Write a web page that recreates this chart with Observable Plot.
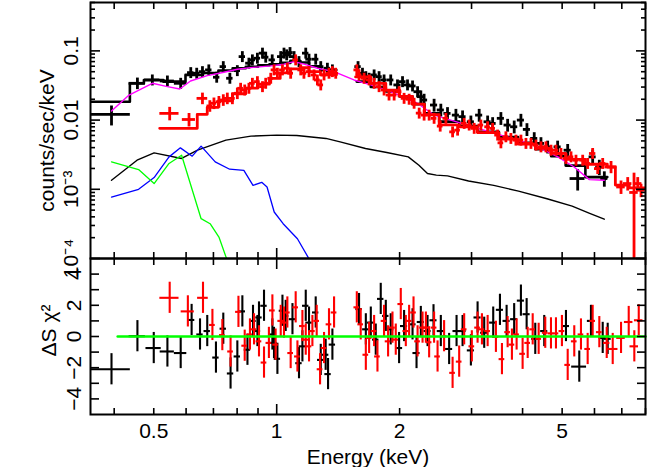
<!DOCTYPE html>
<html><head><meta charset="utf-8">
<script src="https://cdn.jsdelivr.net/npm/d3@7"></script>
<script src="https://cdn.jsdelivr.net/npm/@observablehq/plot@0.6"></script>
<style>
html,body{margin:0;padding:0;background:#fff;}
#chart{position:relative;width:648px;height:467px;overflow:hidden;background:#fff;}
#chart svg{position:absolute;left:0;}
</style></head><body><div id="chart"></div>
<script>
// ---------- data: group 1 (black) spectrum ----------
const blackE = [0.394,0.456,0.496,0.540,0.582,0.616,0.637,0.658,0.682,0.713,
  0.740,0.768,0.801,0.824,0.855,0.872,0.897,0.923,0.940,0.975,
  1.023,1.042,1.058,1.078,1.103,1.134,1.178,1.200,1.246,1.282,
  1.331,1.369,1.582,1.622,1.653,1.684,1.732,1.781,1.832,1.902,
  1.976,2.033,2.091,2.151,2.213,2.254,2.296,2.429,2.523,2.620,
  2.747,2.852,2.989,3.132,3.285,3.379,3.540,3.677,3.816,3.963,
  4.100,4.272,4.437,4.608,4.875,5.159,5.458,5.939,6.166,6.343];
const blackY = [0.0121,0.0340,0.0380,0.0367,0.0340,0.0485,0.0475,0.0501,0.0531,0.0416,
  0.0592,0.0402,0.0518,0.0826,0.0664,0.0741,0.0783,0.0927,0.0811,0.0741,
  0.0826,0.0927,0.0875,0.0945,0.0826,0.0700,0.0927,0.0758,0.0758,0.0592,
  0.0561,0.0531,0.0592,0.0475,0.0424,0.0402,0.0449,0.0424,0.0380,0.0380,
  0.0322,0.0359,0.0322,0.0311,0.0257,0.0218,0.0195,0.0165,0.0140,0.0125,
  0.0118,0.0112,0.00945,0.0118,0.00945,0.00895,0.0106,0.00847,0.0080,0.0100,
  0.00733,0.00543,0.0046,0.0041,0.0041,0.00367,0.00143,0.00294,0.0021,0.00143];
const blackErr = [0.32,0.19,0.18,0.18,0.18,0.18,0.18,0.18,0.18,0.18,
  0.18,0.18,0.18,0.18,0.18,0.18,0.18,0.18,0.18,0.18,
  0.18,0.18,0.18,0.18,0.18,0.18,0.18,0.18,0.18,0.18,
  0.18,0.18,0.18,0.18,0.18,0.18,0.18,0.18,0.18,0.18,
  0.18,0.18,0.18,0.18,0.18,0.21,0.21,0.21,0.21,0.21,
  0.21,0.21,0.21,0.21,0.21,0.21,0.21,0.21,0.21,0.21,
  0.21,0.21,0.21,0.21,0.21,0.21,0.34,0.25,0.25,0.25];
const blackHW = [0.112,0.046,0.043,0.040,0.035,0.018,0.018,0.018,0.018,0.018,
  0.018,0.018,0.018,0.018,0.018,0.018,0.018,0.018,0.018,0.018,
  0.018,0.018,0.018,0.018,0.018,0.018,0.018,0.018,0.018,0.018,
  0.018,0.018,0.018,0.018,0.018,0.018,0.018,0.018,0.018,0.018,
  0.020,0.020,0.020,0.020,0.020,0.020,0.020,0.020,0.020,0.020,
  0.020,0.020,0.020,0.020,0.020,0.020,0.020,0.020,0.020,0.020,
  0.020,0.020,0.020,0.020,0.020,0.020,0.042,0.020,0.020,0.020];

// ---------- data: group 2 (red) spectrum ----------
const redE = [0.547,0.610,0.658,0.686,0.702,0.722,0.740,0.757,0.779,0.801,
  0.816,0.835,0.855,0.872,0.897,0.923,0.940,0.967,0.985,1.004,
  1.033,1.062,1.082,1.113,1.145,1.166,1.200,1.234,1.258,1.282,
  1.306,1.343,1.369,1.395,1.571,1.591,1.637,1.684,1.732,1.781,
  1.832,1.884,1.939,1.994,2.051,2.110,2.170,2.233,2.296,2.362,
  2.429,2.514,2.596,2.696,2.773,2.878,2.960,3.045,3.162,3.285,
  3.379,3.475,3.540,3.641,3.745,3.853,3.963,4.077,4.194,4.314,
  4.437,4.563,4.695,4.829,4.967,5.109,5.256,5.406,5.614,5.774,
  5.939,6.110,6.285,6.587,6.969,7.237,7.499,7.657,7.801];
const redY = [0.0125,0.0102,0.0206,0.0160,0.0175,0.0184,0.0195,0.0206,0.0206,0.0244,
  0.0288,0.0272,0.0288,0.0340,0.0359,0.0304,0.0340,0.0402,0.0531,0.0475,
  0.0531,0.0561,0.0475,0.0741,0.0531,0.0475,0.0501,0.0449,0.0380,0.0322,
  0.0449,0.0475,0.0501,0.0475,0.0531,0.0449,0.0402,0.0380,0.0340,0.0304,
  0.0272,0.0230,0.0230,0.0257,0.0206,0.0200,0.0175,0.0126,0.0118,0.0118,
  0.0106,0.00818,0.0106,0.00676,0.00716,0.00895,0.00847,0.00759,0.00847,0.0080,
  0.00759,0.00607,0.00469,0.00573,0.00543,0.00513,0.00513,0.0046,0.0046,0.00435,
  0.0041,0.0041,0.00367,0.00367,0.00329,0.00279,0.00294,0.00263,0.00263,0.00236,
  0.00329,0.00199,0.00236,0.0021,0.00108,0.00121,0.0009,0.00121,0.00097];
const redErr = [0.22,0.22,0.19,0.19,0.19,0.19,0.19,0.19,0.19,0.19,
  0.18,0.18,0.18,0.18,0.18,0.18,0.18,0.18,0.18,0.18,
  0.18,0.18,0.18,0.18,0.18,0.18,0.18,0.18,0.18,0.18,
  0.18,0.18,0.18,0.18,0.18,0.18,0.18,0.18,0.18,0.18,
  0.18,0.18,0.18,0.18,0.18,0.18,0.18,0.18,0.18,0.18,
  0.18,0.18,0.18,0.18,0.18,0.18,0.18,0.18,0.18,0.18,
  0.18,0.18,0.18,0.18,0.18,0.18,0.18,0.18,0.18,0.18,
  0.18,0.18,0.18,0.18,0.18,0.18,0.18,0.18,0.18,0.18,
  0.18,0.18,0.18,0.20,0.22,0.22,0.90,0.22,0.22];
const redHW = [0.054,0.037,0.030,0.016,0.016,0.016,0.016,0.016,0.016,0.016,
  0.016,0.016,0.016,0.016,0.016,0.016,0.016,0.016,0.016,0.016,
  0.016,0.016,0.016,0.016,0.016,0.016,0.016,0.016,0.016,0.016,
  0.016,0.016,0.016,0.016,0.016,0.016,0.016,0.016,0.016,0.016,
  0.016,0.016,0.016,0.016,0.016,0.016,0.016,0.016,0.016,0.016,
  0.016,0.016,0.016,0.016,0.016,0.016,0.016,0.016,0.016,0.016,
  0.016,0.016,0.016,0.016,0.016,0.016,0.016,0.016,0.016,0.016,
  0.016,0.016,0.016,0.016,0.016,0.016,0.016,0.016,0.016,0.016,
  0.018,0.018,0.018,0.034,0.024,0.024,0.024,0.024,0.024];

// ---------- folded models (step histograms) ----------
const blackModelEdgesA = [0.350,0.437,0.473,0.528,0.598,0.66,0.72,0.78,0.84,0.90,0.96,1.02,1.08,1.14,1.20,1.28,1.40];
const blackModelValsA  = [0.0184,0.0340,0.0380,0.0359,0.045,0.048,0.052,0.056,0.059,0.062,0.064,0.067,0.072,0.068,0.060,0.053];
const blackModelEdgesB = [1.57,1.70,1.85,2.00,2.15,2.30,2.50,2.80,3.10,3.50,3.90,4.30,4.70,5.10,5.70,6.45];
const blackModelValsB  = [0.036,0.030,0.026,0.022,0.017,0.0125,0.0095,0.0082,0.0068,0.0057,0.0047,0.0038,0.0030,0.0022,0.0015];
const redModelEdgesA = [0.517,0.639,0.676,0.72,0.78,0.84,0.90,0.96,1.02,1.08,1.14,1.20,1.28,1.40];
const redModelValsA  = [0.00759,0.0121,0.0153,0.019,0.024,0.029,0.033,0.040,0.048,0.055,0.057,0.050,0.045];
const redModelEdgesB = [1.56,1.70,1.85,2.00,2.15,2.30,2.50,2.80,3.10,3.50,3.90,4.30,4.70,5.10,5.70,6.45,6.75,7.30,8.0];
const redModelValsB  = [0.042,0.034,0.027,0.022,0.017,0.012,0.0085,0.0080,0.0066,0.0053,0.0045,0.0039,0.0033,0.0027,0.0023,0.0021,0.00115,0.00105];

// ---------- total model and components ----------
const totalE = [0.394,0.435,0.496,0.540,0.579,0.615,0.676,0.743,0.801,0.864,0.967,1.042,1.102,1.167,1.259,1.381,1.546,1.700,1.902,2.21,2.43,2.93,3.54,4.27,4.88,5.35,5.83,6.34];
const totalV = [0.0135,0.0230,0.0340,0.0304,0.0281,0.0367,0.0438,0.0491,0.0543,0.0573,0.0607,0.0642,0.0700,0.0642,0.0561,0.0501,0.0380,0.0322,0.0257,0.0175,0.0118,0.00847,0.00607,0.00435,0.00294,0.00210,0.00138,0.00135];
const powE = [0.394,0.455,0.501,0.585,0.640,0.751,0.865,1.0,1.12,1.32,1.43,1.65,1.86,2.10,2.23,2.34,2.46,2.62,2.95,3.40,3.91,4.59,5.29,5.84,6.34];
const powV = [1.35e-3,2.63e-3,3.36e-3,2.79e-3,3.67e-3,5.13e-3,5.86e-3,6.07e-3,6.0e-3,5.43e-3,4.85e-3,3.89e-3,3.40e-3,2.94e-3,2.23e-3,1.69e-3,1.60e-3,1.56e-3,1.32e-3,1.14e-3,9.4e-4,7.3e-4,5.7e-4,4.5e-4,3.7e-4];
const blueE = [0.394,0.459,0.501,0.545,0.581,0.621,0.653,0.707,0.767,0.831,0.875,0.919,0.947,0.986,1.037,1.124,1.194,1.225];
const blueV = [7.7e-4,1.0e-3,1.48e-3,2.94e-3,3.97e-3,3.01e-3,4.2e-3,2.49e-3,1.95e-3,1.88e-3,1.14e-3,1.26e-3,1.08e-3,4.7e-4,3.18e-4,1.93e-4,1.04e-4,8.5e-5];
const greenE = [0.394,0.459,0.501,0.545,0.585,0.653,0.687,0.722,0.756];
const greenV = [2.49e-3,1.93e-3,1.21e-3,2.36e-3,3.11e-3,3.76e-4,3.18e-4,2.04e-4,9.5e-5];

// ---------- residuals ----------
const resBlackE = [0.394,0.456,0.500,0.540,0.582,0.619,0.649,0.676,0.710,0.740,
  0.771,0.801,0.824,0.848,0.875,0.897,0.905,0.931,0.976,0.985,
  1.004,1.033,1.052,1.093,1.134,1.156,1.178,1.200,1.246,1.282,
  1.318,1.336,1.369,1.591,1.653,1.700,1.748,1.798,1.850,1.902,
  1.994,2.051,2.151,2.200,2.254,2.341,2.421,2.523,2.644,2.757,
  2.852,2.989,3.104,3.222,3.390,3.521,3.656,3.815,3.963,4.093,
  4.297,4.520,5.109,5.507,5.882,6.285,6.464];
const resBlackR = [-2.10,0.02,-0.74,-0.96,-1.06,1.06,0.13,0.35,-1.35,0.50,
  -2.37,-1.28,1.61,-0.85,1.00,0.35,1.22,1.97,0.13,-0.41,
  -1.43,1.65,1.32,1.11,-1.71,-0.63,1.97,0.89,1.54,-1.50,
  -1.17,-2.41,-0.52,1.76,0.46,0.89,-0.20,2.41,1.32,0.46,
  -0.74,0.67,0.78,-1.06,0.93,0.35,1.04,0.35,-0.80,0.35,
  0.35,-0.89,1.22,0.24,0.89,1.71,1.00,1.11,2.30,1.43,
  -0.15,0.35,0.67,-1.93,1.00,-0.09,-0.15];
const resBlackHW = [0.112,0.046,0.043,0.040,0.035,0.018,0.018,0.018,0.018,0.018,
  0.018,0.018,0.018,0.018,0.018,0.018,0.018,0.018,0.018,0.018,
  0.018,0.018,0.018,0.018,0.018,0.018,0.018,0.018,0.018,0.018,
  0.018,0.018,0.018,0.018,0.018,0.018,0.018,0.018,0.018,0.018,
  0.020,0.020,0.020,0.020,0.020,0.020,0.020,0.020,0.020,0.020,
  0.020,0.020,0.020,0.020,0.020,0.020,0.020,0.020,0.020,0.020,
  0.020,0.020,0.020,0.042,0.020,0.020,0.020];
const resRedE = [0.547,0.606,0.660,0.696,0.736,0.771,0.806,0.835,0.860,0.880,
  0.905,0.931,0.957,0.976,0.994,1.023,1.042,1.062,1.082,1.113,
  1.124,1.156,1.178,1.200,1.223,1.253,1.277,1.306,1.343,1.382,
  1.571,1.606,1.653,1.684,1.732,1.765,1.832,1.874,1.921,1.957,
  2.013,2.071,2.110,2.163,2.213,2.276,2.319,2.362,2.429,2.477,
  2.570,2.696,2.798,2.878,3.005,3.104,3.181,3.285,3.442,3.561,
  3.677,3.767,3.868,4.001,4.117,4.235,4.380,4.546,4.695,4.829,
  4.994,5.159,5.354,5.560,5.774,5.939,6.166,6.429,6.650,6.969,
  7.278,7.511,7.701];
const resRedR = [2.48,1.61,2.48,0.74,0.09,-0.96,1.58,-0.59,0.13,0.46,
  -0.31,-1.67,-0.41,1.67,-0.52,1.00,0.89,1.54,-1.06,1.87,
  -1.28,0.67,-0.20,-0.63,0.35,1.00,-2.10,-0.74,0.78,1.54,
  1.87,0.78,-1.17,-0.09,0.35,-1.28,1.00,-0.31,0.57,-0.20,
  2.08,0.35,1.00,1.54,-0.31,0.57,0.57,-0.37,0.57,-1.28,
  0.02,-2.33,-1.61,0.46,-0.63,0.57,0.46,0.35,-0.02,-1.45,
  0.28,-0.52,0.13,-1.11,-0.41,0.46,-0.15,0.24,0.20,0.20,
  0.35,-1.82,-0.31,0.13,-0.80,1.00,0.28,-0.41,-0.80,-0.09,
  0.93,-0.63,1.04];
const resRedHW = [0.054,0.037,0.030,0.016,0.016,0.016,0.016,0.016,0.016,0.016,
  0.016,0.016,0.016,0.016,0.016,0.016,0.016,0.016,0.016,0.016,
  0.016,0.016,0.016,0.016,0.016,0.016,0.016,0.016,0.016,0.016,
  0.016,0.016,0.016,0.016,0.016,0.016,0.016,0.016,0.016,0.016,
  0.016,0.016,0.016,0.016,0.016,0.016,0.016,0.016,0.016,0.016,
  0.016,0.016,0.016,0.016,0.016,0.016,0.016,0.016,0.016,0.016,
  0.016,0.016,0.016,0.016,0.016,0.016,0.016,0.016,0.016,0.016,
  0.016,0.016,0.016,0.016,0.016,0.016,0.016,0.018,0.030,0.024,
  0.024,0.024,0.024];
const resSigma = 1;
const zeroLineE = [0.408, 8.0];

// ---------- axes ----------
const energyDomain = [0.35, 8];
const countsDomain = [1e-4, 0.5];
const resDomain = [-5, 5];
const xTickMinor = [0.4,0.5,0.6,0.7,0.8,0.9,2,3,4,5,6,7,8];
const xTickMajor = [1];
const xLabelTicks = [0.5, 1, 2, 5];
const xLabelText = ["0.5", "1", "2", "5"];
const yTopTicks = [1e-4, 1e-3, 0.01, 0.1];
const yTopText = ["10\u207B\u2074", "10\u207B\u00B3", "0.01", "0.1"];
const yTopMinor = [-4,-3,-2,-1].flatMap(k => [2,3,4,5,6,7,8,9].map(m => +(m * Math.pow(10, k)).toPrecision(3))).filter(v => v <= 0.5);
const yResTicks = [-4,-3,-2,-1,0,1,2,3,4];
const yResLabelTicks = [-4,-2,0,2,4];
const yResText = ["\u22124","\u22122","0","2","4"];

// ---------- build tables ----------
function points(E, Y, err, hw) {
  return E.map((e, i) => ({E: e, y: Y[i], lo: Math.max(Y[i] * (1 - err[i]), 1e-6), hi: Y[i] * (1 + err[i]), elo: e * (1 - hw[i]), ehi: e * (1 + hw[i])}));
}
function resPoints(E, R, hw) {
  return E.map((e, i) => ({E: e, r: R[i], lo: R[i] - resSigma, hi: R[i] + resSigma, elo: e * (1 - hw[i]), ehi: e * (1 + hw[i])}));
}
function steps(edges, vals, seg) {
  const out = [];
  vals.forEach((v, i) => { out.push({E: edges[i], v, seg}); out.push({E: edges[i + 1], v, seg}); });
  return out;
}
function curve(E, V) { return E.map((e, i) => ({E: e, v: V[i]})); }

const black = points(blackE, blackY, blackErr, blackHW);
const red = points(redE, redY, redErr, redHW);
const blackModel = steps(blackModelEdgesA, blackModelValsA, "a").concat(steps(blackModelEdgesB, blackModelValsB, "b"));
const redModel = steps(redModelEdgesA, redModelValsA, "a").concat(steps(redModelEdgesB, redModelValsB, "b"));
const resBlack = resPoints(resBlackE, resBlackR, resBlackHW);
const resRed = resPoints(resRedE, resRedR, resRedHW);

const font = "'Liberation Sans', Arial, Helvetica, sans-serif";
const RED = "#ff0000", GREEN = "#00ff00", BLUE = "#0000ff", MAGENTA = "#ff00ff";
const topLabel = new Map(yTopTicks.map((t, i) => [t, yTopText[i]]));
const xLab = new Map(xLabelTicks.map((t, i) => [t, xLabelText[i]]));
const resLab = new Map(yResLabelTicks.map((t, i) => [t, yResText[i]]));

function crosses(data, yKey, color, w) {
  return [
    Plot.ruleX(data, {x: "E", y1: "lo", y2: "hi", stroke: color, strokeWidth: w, clip: true}),
    Plot.ruleY(data, {y: yKey, x1: "elo", x2: "ehi", stroke: color, strokeWidth: w, clip: true})
  ];
}
function xTickAxes() {
  return [
    Plot.axisX({anchor: "bottom", ticks: xTickMinor, tickSize: -6, tickFormat: () => "", label: null, strokeWidth: 1.6}),
    Plot.axisX({anchor: "bottom", ticks: xTickMajor, tickSize: -10, tickFormat: () => "", label: null, strokeWidth: 1.6}),
    Plot.axisX({anchor: "top", ticks: xTickMinor, tickSize: -6, tickFormat: () => "", label: null, strokeWidth: 1.6}),
    Plot.axisX({anchor: "top", ticks: xTickMajor, tickSize: -10, tickFormat: () => "", label: null, strokeWidth: 1.6})
  ];
}

const topPlot = Plot.plot({
  width: 648, height: 260,
  marginLeft: 90, marginRight: 3, marginTop: 2, marginBottom: 2,
  style: {fontFamily: font, fontSize: "21px", background: "transparent", overflow: "visible", color: "black"},
  x: {type: "log", domain: energyDomain},
  y: {type: "log", domain: countsDomain},
  marks: [
    Plot.line(blackModel, {x: "E", y: "v", z: "seg", stroke: "black", strokeWidth: 2.6, clip: true}),
    ...crosses(black, "y", "black", 2.8),
    Plot.line(curve(totalE, totalV), {x: "E", y: "v", stroke: MAGENTA, strokeWidth: 1.4, clip: true}),
    Plot.line(redModel, {x: "E", y: "v", z: "seg", stroke: RED, strokeWidth: 2.8, clip: true}),
    ...crosses(red, "y", RED, 2.8),
    Plot.line(curve(powE, powV), {x: "E", y: "v", stroke: "black", strokeWidth: 1.4, clip: true}),
    Plot.line(curve(blueE, blueV), {x: "E", y: "v", stroke: BLUE, strokeWidth: 1.3, clip: true}),
    Plot.line(curve(greenE, greenV), {x: "E", y: "v", stroke: GREEN, strokeWidth: 1.3, clip: true}),
    ...xTickAxes(),
    Plot.axisY({anchor: "left", ticks: yTopMinor, tickSize: -5, tickFormat: () => "", label: null, strokeWidth: 1.6}),
    Plot.axisY({anchor: "left", ticks: yTopTicks, tickSize: -10, tickFormat: () => "", label: null, strokeWidth: 1.6}),
    Plot.axisY({anchor: "right", ticks: yTopMinor, tickSize: -5, tickFormat: () => "", label: null, strokeWidth: 1.6}),
    Plot.axisY({anchor: "right", ticks: yTopTicks, tickSize: -10, tickFormat: () => "", label: null, strokeWidth: 1.6}),
    Plot.axisY({anchor: "left", ticks: yTopTicks, tickSize: 0, tickPadding: 13, tickRotate: -90, tickFormat: d => topLabel.get(d), label: null}),
    Plot.text(["counts/sec/keV"], {frameAnchor: "left", rotate: -90, dx: -37, dy: 10, lineAnchor: "bottom", textAnchor: "middle"}),
    Plot.frame({stroke: "black", strokeWidth: 2})
  ]
});

const bottomPlot = Plot.plot({
  width: 648, height: 211,
  marginLeft: 90, marginRight: 3, marginTop: 2, marginBottom: 53,
  style: {fontFamily: font, fontSize: "21px", background: "transparent", overflow: "visible", color: "black"},
  x: {type: "log", domain: energyDomain},
  y: {domain: resDomain},
  marks: [
    ...crosses(resBlack, "r", "black", 2.1),
    ...crosses(resRed, "r", RED, 2.1),
    Plot.line(zeroLineE.map(e => ({E: e, r: 0})), {x: "E", y: "r", stroke: GREEN, strokeWidth: 2.6}),
    ...xTickAxes(),
    Plot.axisY({anchor: "left", ticks: yResTicks, tickSize: -9, tickFormat: () => "", label: null, strokeWidth: 1.6}),
    Plot.axisY({anchor: "right", ticks: yResTicks, tickSize: -9, tickFormat: () => "", label: null, strokeWidth: 1.6}),
    Plot.axisY({anchor: "left", ticks: yResLabelTicks, tickSize: 0, tickPadding: 10, tickRotate: -90, tickFormat: d => resLab.get(d), label: null}),
    Plot.axisX({anchor: "bottom", ticks: xLabelTicks, tickSize: 0, tickPadding: 9, tickFormat: d => xLab.get(d), label: null}),
    Plot.text(["\u0394S \u03C7\u00B2"], {frameAnchor: "left", rotate: -90, dx: -35, dy: -6, lineAnchor: "bottom", textAnchor: "middle"}),
    Plot.text(["Energy (keV)"], {frameAnchor: "bottom", dy: 49, lineAnchor: "bottom", textAnchor: "middle"}),
    Plot.frame({stroke: "black", strokeWidth: 2})
  ]
});

const chart = document.getElementById("chart");
topPlot.style.top = "0px";
bottomPlot.style.top = "256px";
chart.appendChild(topPlot);
chart.appendChild(bottomPlot);
</script>
</body></html>
